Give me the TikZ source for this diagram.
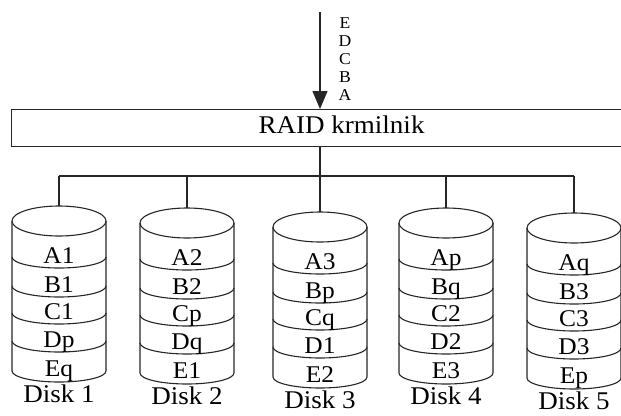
\documentclass[tikz,border=0pt]{standalone}
\usepackage{fontspec}
\setmainfont{Liberation Serif}[FakeStretch=1.06]
\usetikzlibrary{arrows.meta}
\tikzset{
  wire/.style={line width=1.1pt, draw=black!85},
  cell/.style={font=\fontsize{24}{28}\selectfont, anchor=base, inner sep=0pt},
  disklabel/.style={font=\fontsize{25.5}{30}\selectfont, anchor=base, inner sep=0pt},
}
% #1 centre x, #2 depth of the rim centre, #3-#7 stripe labels, #8 disk number
\newcommand\raiddisk[8]{%
  \coordinate (disk#8) at (#1,-#2+15);
  \draw[wire] (#1-47,-#2) -- (#1-47,-#2-150)
      arc[start angle=180,end angle=360,x radius=47,y radius=11] -- (#1+47,-#2);
  \draw[wire] (#1,-#2) ellipse[x radius=47,y radius=15];
  \foreach \d in {36,65,92,120}{%
    \draw[wire] (#1-47,-#2-\d) arc[start angle=180,end angle=360,x radius=47,y radius=11];
  }
  \node[cell] (disk#8a) at (#1,-#2-42) {#3};
  \node[cell] (disk#8b) at (#1,-#2-71) {#4};
  \node[cell] (disk#8c) at (#1,-#2-98) {#5};
  \node[cell] (disk#8d) at (#1,-#2-126) {#6};
  \node[cell] (disk#8e) at (#1,-#2-155) {#7};
  \node[disklabel] (disk#8name) at (#1,-#2-181) {Disk #8};
}
\begin{document}
\begin{tikzpicture}[x=1pt,y=1pt]
\useasboundingbox (0,0) rectangle (621,-415);

% controller
\node[wire, draw, minimum width=660pt, minimum height=37pt, inner sep=0pt,
      text depth=7pt, anchor=north west, font=\fontsize{25.5}{30}\selectfont]
      (ctrl) at (11,-109) {RAID krmilnik};

% incoming data stream
\coordinate (feed) at (320,-12);
\draw[wire, -{Triangle[length=18pt,width=15pt]}] (feed) -- (feed |- ctrl.north);
\node[font=\fontsize{16.6}{18.2}\selectfont, align=center, anchor=north, inner sep=0pt]
      (order) at (345,-17) {E\\D\\C\\B\\A};

% disks
\raiddisk{59}{221}{A1}{B1}{C1}{Dp}{Eq}{1}
\raiddisk{187}{223}{A2}{B2}{Cp}{Dq}{E1}{2}
\raiddisk{320}{227}{A3}{Bp}{Cq}{D1}{E2}{3}
\raiddisk{446}{223}{Ap}{Bq}{C2}{D2}{E3}{4}
\raiddisk{574}{228}{Aq}{B3}{C3}{D3}{Ep}{5}

% bus from the controller to the disks
\coordinate (bus) at (0,-176);
\draw[wire] (ctrl.south -| disk3) -- (disk3 |- bus);
\draw[wire] (disk1 |- bus) -- (disk5 |- bus);
\foreach \k in {1,...,5}{\draw[wire] (disk\k |- bus) -- (disk\k);}
\end{tikzpicture}
\end{document}
